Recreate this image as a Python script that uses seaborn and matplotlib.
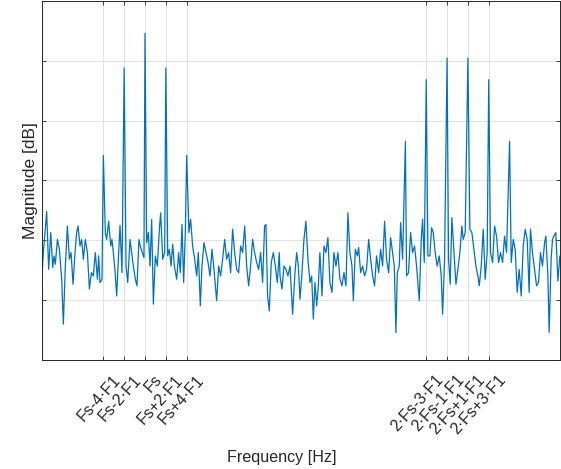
import matplotlib
matplotlib.use("Agg")
import matplotlib.pyplot as plt
import seaborn as sns
import pandas as pd

# Sampling frequency and input tone (kHz)
FS = 30.0
F1 = 1.0

# Spectrum of the sampled signal
freq_khz = [
    20.08, 20.24, 20.56, 20.75, 20.95, 21.14, 21.27, 21.39, 21.59, 21.78,
    22.00, 22.16, 22.35, 22.55, 22.74, 22.90, 23.09, 23.28, 23.44, 23.57,
    23.76, 23.92, 24.08, 24.27, 24.47, 24.66, 24.85, 25.04, 25.23, 25.43,
    25.55, 25.68, 25.87, 26.00, 26.19, 26.32, 26.51, 26.71, 26.83, 26.96,
    27.12, 27.28, 27.44, 27.60, 27.79, 28.00, 28.18, 28.34, 28.56, 28.72,
    28.88, 29.07, 29.23, 29.42, 29.58, 29.74, 29.90, 30.00, 30.16, 30.32,
    30.48, 30.64, 30.80, 30.99, 31.18, 31.38, 31.50, 31.70, 31.89, 32.00,
    32.18, 32.34, 32.50, 32.66, 32.82, 33.04, 33.23, 33.39, 33.55, 33.71,
    33.87, 34.00, 34.22, 34.38, 34.57, 34.77, 34.96, 35.12, 35.31, 35.47,
    35.66, 35.85, 36.05, 36.24, 36.43, 36.62, 36.88, 37.07, 37.26, 37.45,
    37.65, 37.84, 38.03, 38.22, 38.41, 38.61, 38.80, 38.99, 39.18, 39.37,
    39.57, 39.76, 39.95, 40.14, 40.33, 40.52, 40.72, 40.91, 41.10, 41.29,
    41.48, 41.61, 41.77, 41.93, 42.12, 42.32, 42.51, 42.70, 42.89, 42.96,
    43.15, 43.34, 43.53, 43.72, 43.92, 44.17, 44.40, 44.56, 44.72, 44.88,
    45.07, 45.26, 45.45, 45.64, 45.84, 46.00, 46.16, 46.32, 46.48, 46.64,
    46.79, 46.99, 47.18, 47.37, 47.56, 47.75, 47.95, 48.14, 48.33, 48.52,
    48.71, 48.91, 49.10, 49.29, 49.48, 49.67, 49.87, 50.00, 50.19, 50.38,
    50.51, 50.70, 50.89, 51.08, 51.27, 51.47, 51.66, 51.85, 52.04, 52.23,
    52.43, 52.62, 52.81, 53.00, 53.19, 53.39, 53.58, 53.77, 53.93, 54.09,
    54.22, 54.41, 54.54, 54.73, 55.00, 55.11, 55.30, 55.50, 55.69, 55.88,
    56.07, 56.33, 56.52, 56.65, 56.81, 57.00, 57.16, 57.35, 57.51, 57.67,
    57.86, 58.05, 58.25, 58.44, 58.57, 58.76, 59.00, 59.14, 59.30, 59.46,
    59.66, 59.85, 60.04, 60.23, 60.42, 60.55, 60.74, 61.00, 61.19, 61.38,
    61.57, 61.77, 61.96, 62.09, 62.28, 62.47, 62.66, 62.85, 63.00, 63.17,
    63.37, 63.56, 63.75, 63.94, 64.13, 64.33, 64.52, 64.71, 65.00, 65.16,
    65.35, 65.54, 65.73, 65.92, 66.12, 66.31, 66.50, 66.69, 66.88, 67.01,
    67.20, 67.40, 67.59, 67.78, 67.97, 68.16, 68.36, 68.48, 68.68, 68.80,
    68.99, 69.12, 69.25, 69.44, 69.64, 69.83,
]
magnitude_db = [
    -94.1, -84.1, -70.4, -89.7, -77.4, -89.1, -85.2, -88.0, -79.7, -83.0,
    -93.0, -108.0, -88.6, -75.2, -86.3, -84.1, -94.7, -84.1, -77.4, -75.2,
    -81.9, -79.7, -86.3, -79.7, -84.1, -96.3, -90.8, -91.9, -84.1, -93.0,
    -85.2, -94.1, -93.0, -51.6, -77.4, -79.7, -73.6, -81.9, -79.7, -84.1,
    -90.2, -98.6, -86.3, -75.0, -90.8, -22.4, -88.6, -94.1, -79.7, -84.1,
    -88.6, -93.0, -95.2, -79.7, -82.4, -84.1, -85.8, -10.8, -80.8, -77.4,
    -88.6, -73.0, -101.3, -85.2, -88.6, -76.3, -70.8, -86.3, -84.1, -22.4,
    -85.2, -83.0, -88.6, -81.3, -88.6, -93.0, -84.1, -90.8, -74.7, -94.1,
    -77.4, -51.6, -77.4, -73.0, -81.9, -86.3, -91.9, -84.1, -101.9, -88.6,
    -80.8, -84.1, -87.4, -91.9, -83.0, -89.7, -100.2, -88.6, -91.9, -86.3,
    -79.7, -86.3, -84.1, -90.8, -76.3, -84.1, -89.7, -90.8, -81.9, -84.1,
    -75.2, -88.6, -95.2, -88.6, -79.7, -84.1, -87.4, -89.7, -84.1, -94.1,
    -75.2, -74.7, -98.6, -103.6, -87.4, -84.1, -88.6, -94.1, -84.1, -91.9,
    -96.3, -88.6, -89.7, -91.9, -88.6, -104.7, -90.8, -84.1, -88.6, -99.7,
    -90.8, -79.7, -73.6, -86.3, -94.1, -91.9, -106.3, -94.1, -101.9, -95.2,
    -84.1, -98.6, -81.9, -84.1, -79.1, -94.1, -97.4, -84.1, -88.6, -84.1,
    -93.0, -95.2, -90.8, -95.2, -70.8, -84.1, -88.6, -100.2, -83.0, -85.2,
    -82.4, -90.8, -88.6, -91.9, -89.7, -79.7, -86.3, -91.9, -95.2, -85.2,
    -90.8, -83.0, -88.6, -73.6, -86.3, -90.8, -79.1, -84.1, -88.6, -110.8,
    -90.8, -88.6, -74.1, -86.3, -46.9, -91.9, -90.8, -77.4, -84.1, -81.9,
    -88.6, -100.2, -79.7, -73.0, -87.4, -26.3, -85.2, -85.2, -75.8, -77.4,
    -84.1, -88.6, -85.2, -91.9, -104.7, -86.3, -19.1, -86.3, -94.7, -72.4,
    -84.1, -94.7, -89.7, -84.1, -75.2, -79.7, -77.4, -19.1, -76.3, -77.4,
    -83.0, -88.6, -91.9, -95.2, -88.6, -76.3, -93.0, -84.1, -26.3, -84.1,
    -87.4, -75.2, -78.6, -87.4, -84.1, -87.4, -78.6, -84.1, -46.9, -87.4,
    -79.7, -83.0, -97.4, -89.7, -98.6, -81.9, -76.3, -79.7, -97.4, -76.3,
    -84.1, -89.7, -95.2, -94.1, -84.1, -88.6, -80.8, -78.6, -91.9, -110.8,
    -86.3, -79.7, -78.6, -77.4, -93.6, -85.2,
]

# Marked frequencies: (multiple of FS, multiple of F1, label)
tick_fs_mult = [1, 1, 1, 1, 1, 2, 2, 2, 2]
tick_f1_mult = [-4, -2, 0, 2, 4, -3, -1, 1, 3]
tick_labels = ["Fs-4·F1", "Fs-2·F1", "Fs", "Fs+2·F1", "Fs+4·F1",
               "2·Fs-3·F1", "2·Fs-1·F1", "2·Fs+1·F1", "2·Fs+3·F1"]

sns.set_style("white")
plt.rcParams["font.family"] = ["Liberation Sans", "DejaVu Sans"]
TXT = "#262626"

df = pd.DataFrame({"freq": freq_khz, "mag": magnitude_db})

fig = plt.figure(figsize=(5.61, 4.69), dpi=100)
ax = fig.add_axes([0.0743, 0.2324, 0.9237, 0.7655])

sns.lineplot(data=df, x="freq", y="mag", ax=ax, color="#0072BD",
             linewidth=0.9, estimator=None, sort=False)

ticks = [m * FS + k * F1 for m, k in zip(tick_fs_mult, tick_f1_mult)]
ax.set_xticks(ticks)
ax.set_xticklabels([])
# slanted labels hang below and slightly right of their ticks
for t, lab in zip(ticks, tick_labels):
    ax.annotate(lab, xy=(t, 0), xycoords=("data", "axes fraction"),
                xytext=(6.6, -8.8), textcoords="offset points",
                rotation=48, rotation_mode="anchor", ha="right", va="top",
                fontsize=11.5, color=TXT, annotation_clip=False)

ax.set_yticks(range(-120, 1, 20))
ax.set_yticklabels([])
ax.set_xlim(freq_khz[0], freq_khz[-1])
ax.set_ylim(-120, 0)

ax.grid(True, color="#dedede", linewidth=0.6)
ax.set_axisbelow(True)
for sp in ax.spines.values():
    sp.set_color(TXT)
    sp.set_linewidth(0.7)
ax.tick_params(direction="in", length=3, width=0.6, color=TXT,
               top=True, right=True, bottom=True, left=True)

ax.set_xlabel("Frequency [Hz]", fontsize=11.6, color=TXT)
ax.set_ylabel("Magnitude [dB]", fontsize=12.5, color=TXT)
ax.xaxis.set_label_coords(0.463, -0.252)
ax.yaxis.set_label_coords(-0.008, 0.5)

fig.savefig("out.png", dpi=100)
